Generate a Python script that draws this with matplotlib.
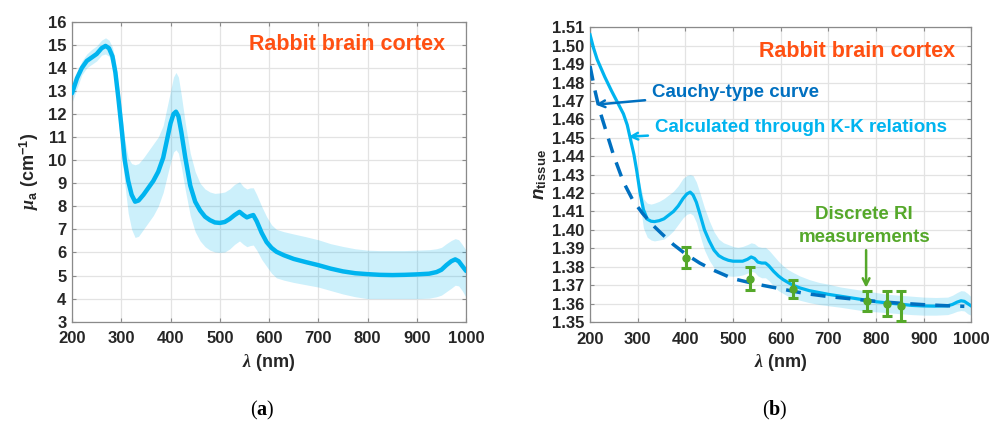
import numpy as np
import matplotlib
matplotlib.use("Agg")
import matplotlib.pyplot as plt

plt.rcParams['font.family'] = ['Liberation Sans', 'DejaVu Sans']
plt.rcParams['font.weight'] = 'bold'
plt.rcParams['axes.labelweight'] = 'bold'
plt.rcParams['mathtext.fontset'] = 'custom'
plt.rcParams['mathtext.rm'] = 'Liberation Sans:bold'
plt.rcParams['mathtext.it'] = 'Liberation Serif:italic'
plt.rcParams['mathtext.sf'] = 'Liberation Sans:italic:bold'
plt.rcParams['mathtext.bf'] = 'Liberation Serif:bold'

LINE_BLUE = '#00B4EF'
DARK_BLUE = '#0070C0'
GREEN = '#55A82A'
TITLE_RED = '#FF5012'
TICK_COLOR = '#262626'

# (a) absorption coefficient, mean and spread
wl_a = [200, 210, 220, 230, 240, 250, 260, 268, 275, 282, 288, 294, 300, 307, 314, 321,
        328, 335, 345, 355, 365, 375, 385, 393, 400, 406, 411, 416, 422, 430, 440, 450,
        460, 470, 480, 490, 500, 510, 520, 530, 540, 548, 555, 562, 568, 575, 585, 595,
        605, 615, 630, 650, 675, 700, 725, 750, 775, 800, 825, 850, 875, 900, 925, 940,
        950, 960, 970, 978, 985, 992, 1000]
mua = [12.9, 13.55, 14.0, 14.3, 14.45, 14.6, 14.85, 14.95, 14.85, 14.5, 13.8, 12.7, 11.5, 10.0, 9.1, 8.5,
       8.2, 8.25, 8.5, 8.8, 9.1, 9.5, 10.1, 10.9, 11.6, 12.0, 12.1, 11.9, 11.2, 10.1, 8.9, 8.2,
       7.82, 7.55, 7.4, 7.3, 7.28, 7.32, 7.45, 7.62, 7.76, 7.62, 7.52, 7.58, 7.62, 7.35, 6.85, 6.45,
       6.2, 6.03, 5.88, 5.72, 5.58, 5.45, 5.3, 5.18, 5.1, 5.06, 5.03, 5.02, 5.03, 5.05, 5.08, 5.15,
       5.25, 5.45, 5.62, 5.7, 5.62, 5.42, 5.2]
mua_hi = [13.1, 13.8, 14.3, 14.6, 14.8, 14.95, 15.2, 15.3, 15.2, 14.9, 14.3, 13.3, 12.2, 10.9, 10.1, 9.85,
          9.8, 9.85, 10.1, 10.4, 10.7, 11.0, 11.5, 12.3, 13.0, 13.6, 13.8, 13.6, 12.8, 11.6, 10.3, 9.5,
          9.0, 8.75, 8.62, 8.56, 8.58, 8.62, 8.75, 8.95, 9.06, 8.85, 8.75, 8.8, 8.8, 8.5, 8.0, 7.55,
          7.2, 7.0, 6.9, 6.8, 6.68, 6.55, 6.38, 6.26, 6.16, 6.1, 6.08, 6.08, 6.08, 6.1, 6.12, 6.16,
          6.22, 6.38, 6.52, 6.6, 6.55, 6.35, 6.1]
mua_lo = [12.5, 13.1, 13.7, 14.0, 14.15, 14.3, 14.55, 14.6, 14.5, 14.1, 13.2, 11.8, 10.5, 9.0, 7.7, 7.0,
          6.65, 6.7, 7.0, 7.3, 7.6, 8.0, 8.6, 9.3, 9.9, 10.35, 10.45, 10.3, 9.7, 8.7, 7.6, 6.9,
          6.5, 6.25, 6.1, 6.02, 6.0, 6.02, 6.15, 6.35, 6.5, 6.35, 6.25, 6.3, 6.32, 6.1, 5.7, 5.4,
          5.1, 4.9, 4.8, 4.7, 4.6, 4.5, 4.35, 4.2, 4.08, 4.0, 4.0, 4.0, 4.0, 4.0, 4.02, 4.08,
          4.15, 4.3, 4.45, 4.58, 4.55, 4.35, 4.05]

# (b) refractive index from K-K relations, mean and spread
wl_b = [200, 207, 215, 231, 245, 259, 270, 278, 285, 292, 298, 305, 312, 320, 328, 335,
        345, 355, 365, 375, 385, 395, 403, 410, 416, 423, 430, 440, 450, 460, 470, 480,
        490, 500, 510, 520, 530, 538, 545, 552, 560, 568, 575, 585, 595, 605, 615, 625,
        640, 660, 680, 700, 725, 750, 775, 800, 825, 850, 875, 900, 925, 950, 960, 970,
        978, 985, 992, 1000]
n_kk = [1.506, 1.499, 1.4925, 1.483, 1.4755, 1.4685, 1.463, 1.457, 1.449, 1.441, 1.432, 1.420, 1.411, 1.4058, 1.4047, 1.4045,
        1.405, 1.406, 1.408, 1.410, 1.413, 1.417, 1.4195, 1.4205, 1.419, 1.415, 1.409, 1.400, 1.394, 1.389, 1.386, 1.3845,
        1.3835, 1.383, 1.383, 1.383, 1.384, 1.3853, 1.3845, 1.3825, 1.382, 1.382, 1.3805, 1.3775, 1.375, 1.373, 1.3715, 1.370,
        1.3685, 1.367, 1.366, 1.365, 1.364, 1.363, 1.362, 1.361, 1.3603, 1.3597, 1.359, 1.3587, 1.3586, 1.3588, 1.3595, 1.3608,
        1.3615, 1.3612, 1.3600, 1.3586]
n_kk_hi = [1.5065, 1.4995, 1.493, 1.4835, 1.476, 1.469, 1.4635, 1.4575, 1.4495, 1.4415, 1.4325, 1.4245, 1.417, 1.4145, 1.414, 1.4145,
           1.4155, 1.417, 1.419, 1.421, 1.424, 1.428, 1.4295, 1.430, 1.4295, 1.426, 1.4205, 1.412, 1.405, 1.399, 1.395, 1.393,
           1.392, 1.391, 1.3905, 1.391, 1.392, 1.393, 1.3925, 1.391, 1.3905, 1.3905, 1.389, 1.386, 1.383, 1.3805, 1.3785, 1.377,
           1.375, 1.373, 1.3715, 1.3705, 1.369, 1.368, 1.367, 1.366, 1.365, 1.3645, 1.364, 1.3635, 1.3633, 1.3635, 1.3645, 1.366,
           1.367, 1.3668, 1.3655, 1.3635]
n_kk_lo = [1.5055, 1.4985, 1.492, 1.4825, 1.475, 1.468, 1.4625, 1.4565, 1.4485, 1.4405, 1.4315, 1.414, 1.401, 1.396, 1.3945, 1.394,
           1.3945, 1.395, 1.397, 1.3995, 1.403, 1.4065, 1.4085, 1.409, 1.408, 1.404, 1.3975, 1.389, 1.3835, 1.3795, 1.377, 1.3755,
           1.375, 1.3748, 1.375, 1.3755, 1.3765, 1.3775, 1.377, 1.375, 1.374, 1.374, 1.3725, 1.3695, 1.367, 1.3655, 1.364, 1.363,
           1.3618, 1.3605, 1.3595, 1.3588, 1.358, 1.357, 1.356, 1.3555, 1.355, 1.3545, 1.354, 1.3537, 1.3537, 1.354, 1.3548, 1.3558,
           1.3562, 1.356, 1.3545, 1.3535]

# Cauchy-type dispersion curve
wl_c = [200, 210, 220, 232, 250, 270, 290, 310, 330, 350, 375, 400, 430, 460, 500, 550,
        600, 650, 700, 750, 800, 850, 900, 950, 985]
n_cauchy = [1.489, 1.476, 1.465, 1.455, 1.440, 1.426, 1.416, 1.409, 1.403, 1.398, 1.392, 1.387, 1.382, 1.378, 1.3735, 1.3705,
            1.368, 1.3655, 1.3638, 1.3625, 1.3612, 1.3602, 1.3594, 1.3588, 1.3585]

# discrete refractometer measurements
wl_meas = [402, 536, 626, 781, 822, 852]
n_meas = [1.385, 1.3735, 1.368, 1.3612, 1.360, 1.3586]
n_meas_err = [0.0055, 0.0063, 0.0048, 0.0055, 0.007, 0.008]


def style_axes(ax):
    ax.grid(True, color='#e3e3e3', linewidth=0.9, zorder=0)
    ax.set_axisbelow(True)
    for sp in ax.spines.values():
        sp.set_color('#8a8a8a')
        sp.set_linewidth(0.9)
    ax.tick_params(direction='in', length=3, width=0.8, color='#8a8a8a',
                   top=True, right=True, labelsize=12, labelcolor=TICK_COLOR)
    ax.tick_params(axis='x', pad=7)
    ax.tick_params(axis='y', pad=4)
    for lab in ax.get_xticklabels() + ax.get_yticklabels():
        lab.set_fontweight('bold')
    ax.set_xlim(200, 1000)
    ax.set_xticks(np.arange(200, 1001, 100))
    ax.set_xlabel(r'$\lambda$ (nm)', fontsize=13, fontweight='bold', color=TICK_COLOR, labelpad=4)


def plot_absorption(ax):
    ax.fill_between(wl_a, mua_lo, mua_hi, color=LINE_BLUE, alpha=0.2, linewidth=0, zorder=2)
    ax.plot(wl_a, mua, color=LINE_BLUE, linewidth=3.2, zorder=3, solid_capstyle='round')
    ax.set_ylim(3, 16)
    ax.set_yticks(np.arange(3, 17, 1))
    style_axes(ax)
    ax.set_ylabel(r'$\mu_{\rm a}$ (cm$^{-1}$)', fontsize=13, fontweight='bold',
                  color=TICK_COLOR, labelpad=5)
    ax.text(758, 15.03, 'Rabbit brain cortex', color=TITLE_RED, fontsize=15.5,
            fontweight='bold', ha='center', va='center')


def plot_index(ax):
    ax.fill_between(wl_b, n_kk_lo, n_kk_hi, color=LINE_BLUE, alpha=0.2, linewidth=0, zorder=2)
    ax.plot(wl_b, n_kk, color=LINE_BLUE, linewidth=2.3, zorder=3)
    ax.plot(wl_c, n_cauchy, color=DARK_BLUE, linewidth=2.5, dashes=(4.3, 2.9), zorder=4)
    ax.errorbar(wl_meas, n_meas, yerr=n_meas_err, fmt='o', color=GREEN, markersize=5,
                elinewidth=2.2, capsize=3.5, capthick=2.2, zorder=5)
    ax.set_ylim(1.35, 1.51)
    ax.set_yticks(np.arange(1.35, 1.5101, 0.01))
    ax.set_yticklabels(['%.2f' % v for v in np.arange(1.35, 1.5101, 0.01)])
    style_axes(ax)
    ax.set_ylabel(r'$\mathsf{n}_{\rm tissue}$', fontsize=13.5, color=TICK_COLOR, labelpad=2)

    ax.text(761, 1.4966, 'Rabbit brain cortex', color=TITLE_RED, fontsize=15.5,
            fontweight='bold', ha='center', va='center')
    ax.annotate('Cauchy-type curve', xy=(212, 1.468), xytext=(330, 1.4748),
                color=DARK_BLUE, fontsize=13.5, fontweight='bold', va='center',
                arrowprops=dict(arrowstyle='->', color=DARK_BLUE, lw=1.8,
                                shrinkA=3, shrinkB=0, mutation_scale=12))
    ax.annotate('Calculated through K-K relations', xy=(281, 1.4506), xytext=(336, 1.4558),
                color=LINE_BLUE, fontsize=13.5, fontweight='bold', va='center',
                arrowprops=dict(arrowstyle='->', color=LINE_BLUE, lw=1.8,
                                shrinkA=3, shrinkB=0, mutation_scale=12))
    ax.text(775, 1.4022, 'Discrete RI\nmeasurements', color=GREEN, fontsize=13.5,
            fontweight='bold', ha='center', va='center', linespacing=1.45)
    ax.annotate('', xy=(779, 1.3686), xytext=(779, 1.389),
                arrowprops=dict(arrowstyle='->', color=GREEN, lw=1.8,
                                shrinkA=0, shrinkB=0, mutation_scale=12))


def main():
    fig = plt.figure(figsize=(9.91, 4.21), dpi=100)
    ax_a = fig.add_axes([0.0727, 0.2359, 0.3976, 0.7126])
    ax_b = fig.add_axes([0.5954, 0.2352, 0.3849, 0.7000])

    plot_absorption(ax_a)
    plot_index(ax_b)

    fig.text(0.265, 0.024, r'($\mathbf{a}$)', family='Liberation Serif', fontweight='normal',
             fontsize=14.5, ha='center', va='center', color='black')
    fig.text(0.782, 0.024, r'($\mathbf{b}$)', family='Liberation Serif', fontweight='normal',
             fontsize=14.5, ha='center', va='center', color='black')

    fig.savefig('out.png', dpi=100)


if __name__ == "__main__":
    main()
